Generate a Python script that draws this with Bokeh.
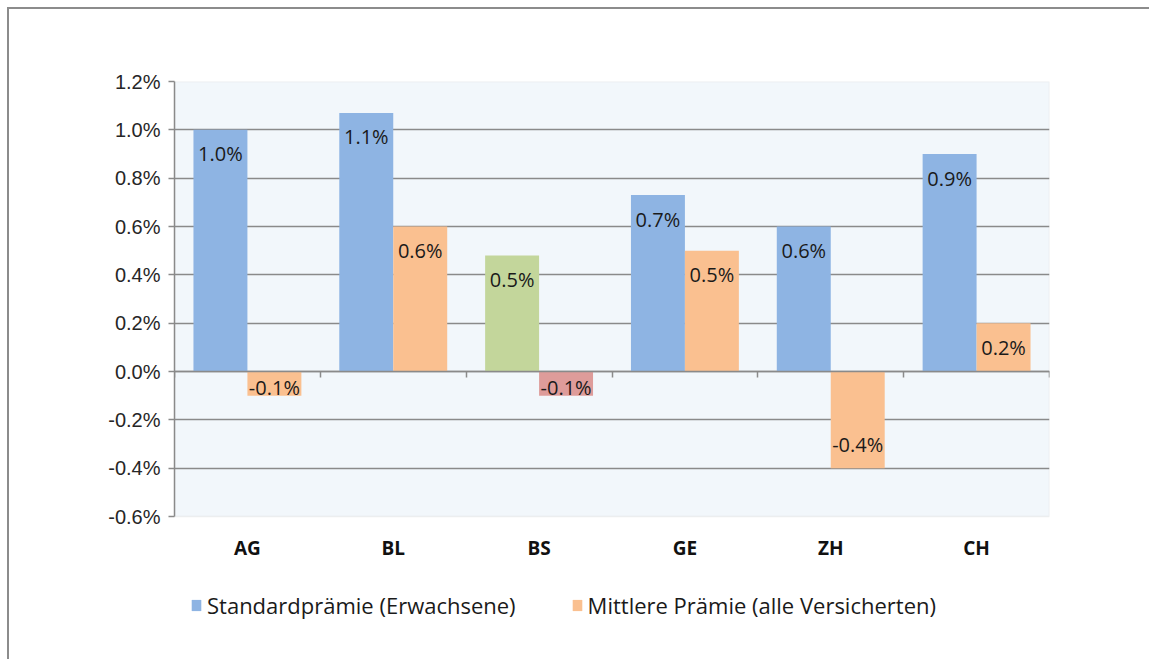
import numpy as np
from bokeh.plotting import figure
from bokeh.models import (Range1d, LinearAxis, FixedTicker, PrintfTickFormatter,
                          CustomJSTickFormatter, Legend, LegendItem, Grid, BoxAnnotation)
from bokeh.core.properties import value
from bokeh.embed import file_html
from bokeh.resources import INLINE

# ---- data ----
categories = ["AG", "BL", "BS", "GE", "ZH", "CH"]
standard = [1.0, 1.07, 0.48, 0.73, 0.6, 0.9]      # Standardprämie (Erwachsene), %
mittlere = [-0.1, 0.6, -0.1, 0.5, -0.4, 0.2]      # Mittlere Prämie (alle Versicherten), %
series_names = ["Standardprämie (Erwachsene)", "Mittlere Prämie (alle Versicherten)"]
y_ticks = [-0.6, -0.4, -0.2, 0.0, 0.2, 0.4, 0.6, 0.8, 1.0, 1.2]

# ---- styles ----
BLUE, ORANGE, GREEN, RED = "#8EB4E3", "#FAC090", "#C3D69B", "#DE9C9A"
std_colors = [GREEN if c == "BS" else BLUE for c in categories]
mit_colors = [RED if c == "BS" else ORANGE for c in categories]
GRID = "#8A8A8A"
PLOT_BG = "#F2F7FB"
AREA_W, AREA_H = 875, 435          # plot-area size in px
EXTRA_H = 133                      # room below plot area for category labels + legend
Y0, Y1 = y_ticks[0], y_ticks[-1]
px_per_unit = AREA_H / (Y1 - Y0)
y_bottom = Y0 - EXTRA_H / px_per_unit

idx = np.arange(len(categories))
centers = idx + 0.5
bw = 0.37
std_x = centers - bw / 2
mit_x = centers + bw / 2

p = figure(frame_width=AREA_W, frame_height=AREA_H + EXTRA_H,
           x_range=Range1d(0, len(categories)), y_range=Range1d(y_bottom, Y1),
           x_axis_type=None, y_axis_type=None,
           output_backend="svg", toolbar_location=None,
           min_border_left=165, min_border_top=72, min_border_right=100, min_border_bottom=10,
           background_fill_color="white", border_fill_color="white",
           outline_line_color=None)
p.styles = {"border-top": "2px solid #8c8c8c", "border-left": "2px solid #8c8c8c",
            "margin-left": "7px", "margin-top": "7px"}

# plot area background + frame
area = BoxAnnotation(left=0, right=len(categories), bottom=Y0, top=Y1,
                     fill_color=PLOT_BG, fill_alpha=1.0,
                     line_color="#D2D2D2", line_width=1.5, level="underlay")
p.add_layout(area)

# grid
grid = Grid(dimension=1, ticker=FixedTicker(ticks=y_ticks[1:-1]),
            grid_line_color=GRID, grid_line_width=1.5)
p.add_layout(grid)

# y axis
yaxis = LinearAxis(ticker=FixedTicker(ticks=y_ticks), bounds=(Y0, Y1),
                   formatter=PrintfTickFormatter(format="%.1f%%"),
                   axis_line_color=GRID, axis_line_width=1.5,
                   major_tick_line_color=GRID, major_tick_line_width=1.5,
                   major_tick_out=6, major_tick_in=0, minor_tick_out=0, minor_tick_in=0,
                   major_label_standoff=8,
                   major_label_text_font="Liberation Sans",
                   major_label_text_font_size="20px",
                   major_label_text_color="#262626")
p.add_layout(yaxis, "left")

# zero-line axis with ticks at category boundaries (drawn at y=0, ticks pointing down)
zero_axis = LinearAxis(fixed_location=0,
                       ticker=FixedTicker(ticks=list(range(len(categories) + 1))),
                       formatter=CustomJSTickFormatter(code="return '';"),
                       axis_line_color=GRID, axis_line_width=1.5,
                       major_tick_line_color=GRID, major_tick_line_width=1.5,
                       major_tick_out=0, major_tick_in=6, minor_tick_out=0, minor_tick_in=0,
                       major_label_standoff=0,
                       major_label_text_font_size="1px")
p.add_layout(zero_axis, "above")

# bars
r_std = p.vbar(x=std_x, top=standard, bottom=0, width=bw,
               fill_color=std_colors, line_color=None)
r_mit = p.vbar(x=mit_x, top=mittlere, bottom=0, width=bw,
               fill_color=mit_colors, line_color=None)

# category labels under the plot area
p.text(x=centers, y=[Y0] * len(categories), text=categories, y_offset=31,
       text_align="center", text_baseline="middle",
       text_font=value("Open Sans"), text_font_style="bold",
       text_font_size="19px", text_color="#111111")

# data labels (inside end)
def offsets(vals):
    out = []
    for v in vals:
        h = abs(v) * px_per_unit
        d = 24 if h > 30 else 8
        out.append(d if v >= 0 else -d)
    return out

for xs, vals in ((std_x, standard), (mit_x, mittlere)):
    p.text(x=xs, y=vals, text=[f"{v:.1f}%" for v in vals],
           y_offset=offsets(vals), text_align="center", text_baseline="middle",
           text_font=value("Open Sans"), text_font_size="20px", text_color="#1A1A1A")

legend = Legend(items=[LegendItem(label=series_names[0], renderers=[r_std], index=0),
                       LegendItem(label=series_names[1], renderers=[r_mit], index=0)],
                orientation="horizontal", location=(16, 29),
                glyph_width=12, glyph_height=14, label_standoff=5, spacing=55,
                padding=0, margin=0, border_line_color=None, background_fill_alpha=0,
                label_text_font="Open Sans", label_text_font_size="22px",
                label_text_color="#1A1A1A")
p.add_layout(legend)

open("out.html", "w").write(file_html(p, INLINE))
